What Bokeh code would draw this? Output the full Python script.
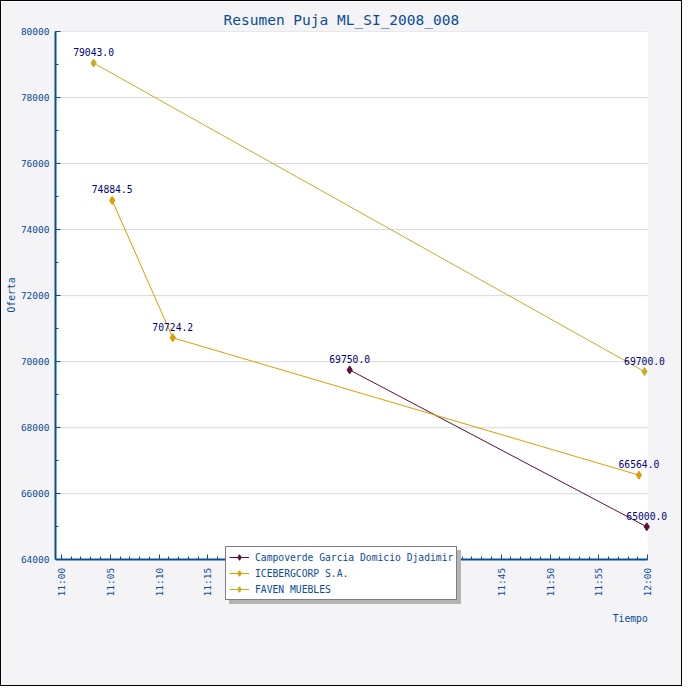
import pandas as pd
from math import pi
from bokeh.plotting import figure
from bokeh.models import (ColumnDataSource, Range1d, FixedTicker, DatetimeTickFormatter,
                          Label, NumeralTickFormatter, Legend, LegendItem, Title)
from bokeh.core.properties import value
from bokeh.embed import file_html
from bokeh.resources import INLINE

# ---- data ----
title_text = "Resumen Puja ML_SI_2008_008"
x_label = "Tiempo"
y_label = "Oferta"
day = "2008-01-01 "
campo_name = "Campoverde Garcia Domicio Djadimir"
campo_times = ["11:29:30", "11:59:54"]
campo_vals = [69750.0, 65000.0]
ice_name = "ICEBERGCORP S.A."
ice_times = ["11:05:12", "11:11:24", "11:59:06"]
ice_vals = [74884.5, 70724.2, 66564.0]
faven_name = "FAVEN MUEBLES"
faven_times = ["11:03:18", "11:59:40"]
faven_vals = [79043.0, 69700.0]
x_tick_times = ["11:00", "11:05", "11:10", "11:15", "11:20", "11:25", "11:30",
                "11:35", "11:40", "11:45", "11:50", "11:55", "12:00"]
y_ticks = [64000, 66000, 68000, 70000, 72000, 74000, 76000, 78000, 80000]
y_minor = [64000, 65000, 66000, 67000, 68000, 69000, 70000, 71000, 72000,
           73000, 74000, 75000, 76000, 77000, 78000, 79000, 80000]

# ---- styles / layout ----
FONT = "DejaVu Sans Mono"
BLUE = "#0a4c96"
NAVY = "#000080"
colors = {"campo": "#5c0e3e", "ice": "#e09c00", "faven": "#c8ac28"}
GRAY_BG = "#f4f4f6"

FRAME_L, FRAME_T, FRAME_W, FRAME_H = 54, 30, 624, 604
LEFT_PAD_PX = 6                       # room left of 11:00 for its tick label
PLOT_W_PX, PLOT_H_PX = 586.3, 528.3   # pixel size of the 11:00-12:00 / 64000-80000 area


def to_dt(ts):
    return pd.to_datetime([day + t for t in ts])


def to_ms(ts):
    return [pd.Timestamp(day + t).value / 1e6 for t in ts]


x_start = pd.Timestamp(day + x_tick_times[0])
x_end = pd.Timestamp(day + x_tick_times[-1])
y_lo, y_hi = y_ticks[0], y_ticks[-1]
span_x = x_end - x_start
view_x_start = x_start - span_x * (LEFT_PAD_PX / PLOT_W_PX)
view_x_end = view_x_start + span_x * (FRAME_W / PLOT_W_PX)
view_y_lo = y_hi - (y_hi - y_lo) * (FRAME_H / PLOT_H_PX)
minor_times = pd.date_range(x_start, x_end, freq="1min")

p = figure(frame_width=FRAME_W, frame_height=FRAME_H, output_backend="svg",
           toolbar_location=None, x_axis_type="datetime",
           x_range=Range1d(view_x_start, view_x_end), y_range=Range1d(view_y_lo, y_hi),
           min_border_left=FRAME_L, min_border_right=2, min_border_top=FRAME_T,
           min_border_bottom=684 - FRAME_T - FRAME_H)
p.styles = {"border": "1px solid #000000"}
p.border_fill_color = GRAY_BG
p.background_fill_color = GRAY_BG
p.outline_line_color = None

p.title.text = title_text
p.title.text_font = FONT
p.title.text_font_size = "14.5px"
p.title.text_font_style = "normal"
p.title.text_color = BLUE
p.title.align = "left"
p.title.offset = 168
p.title.standoff = 8

# white plotting area
p.quad(left=[view_x_start], right=[x_end], bottom=[y_lo], top=[y_hi],
       fill_color="#ffffff", line_color=None, level="image")
# horizontal grid lines at major y ticks
p.segment(x0=[view_x_start] * (len(y_ticks) - 1), x1=[x_end] * (len(y_ticks) - 1),
          y0=y_ticks[1:], y1=y_ticks[1:], line_color="#d8d8d8", line_width=1,
          level="underlay")
p.xgrid.grid_line_color = None
p.ygrid.grid_line_color = None

# axes
xa = p.xaxis[0]
xa.ticker = FixedTicker(ticks=to_ms(x_tick_times),
                        minor_ticks=[t.value / 1e6 for t in minor_times])
xa.formatter = DatetimeTickFormatter(seconds="%H:%M", minsec="%H:%M", minutes="%H:%M",
                                     hourmin="%H:%M", hours="%H:%M", days="%H:%M")
xa.major_label_orientation = pi / 2
xa.fixed_location = y_lo
xa.bounds = (view_x_start, x_end)
ya = p.yaxis[0]
ya.ticker = FixedTicker(ticks=y_ticks, minor_ticks=y_minor)
ya.formatter = NumeralTickFormatter(format="0")
ya.bounds = (y_lo, y_hi)
for ax in (xa, ya):
    ax.axis_line_color = BLUE
    ax.axis_line_width = 2
    ax.major_tick_line_color = BLUE
    ax.minor_tick_line_color = BLUE
    ax.major_tick_in = 5
    ax.major_tick_out = 0
    ax.minor_tick_in = 3
    ax.minor_tick_out = 0
    ax.major_label_text_font = FONT
    ax.major_label_text_font_size = "9.5px"
    ax.major_label_text_color = BLUE
    ax.major_label_standoff = 8
ya.major_label_standoff = 6

p.add_layout(Title(text=y_label, text_font=FONT, text_font_size="9.7px",
                   text_font_style="normal", text_color=BLUE, align="left",
                   offset=323, standoff=1), "left")

series = [
    ("campo", campo_name, campo_times, campo_vals),
    ("ice", ice_name, ice_times, ice_vals),
    ("faven", faven_name, faven_times, faven_vals),
]
items, items_shadow = [], []
for key, name, times, vals in series:
    col = colors[key]
    src = ColumnDataSource(dict(x=to_dt(times), y=vals,
                                lbl=["%.1f" % v for v in vals]))
    r_line = p.line("x", "y", source=src, color=col, line_width=1)
    r_pt = p.scatter("x", "y", source=src, marker="diamond", size=8, color=col)
    p.text("x", "y", text="lbl", source=src, text_font=value(FONT),
           text_font_size="9.7px", text_color=NAVY, text_align="center",
           text_baseline="bottom", y_offset=-7)
    items.append(LegendItem(label=name, renderers=[r_line, r_pt]))
    items_shadow.append(LegendItem(label=name, renderers=[r_line, r_pt]))

p.add_layout(Label(x=x_end, y=y_lo, text=x_label, text_font=FONT,
                   text_font_size="9.7px", text_color=BLUE, text_align="right",
                   text_baseline="middle", y_offset=-59))

LEG_X, LEG_Y = 170, 35


def make_legend(its, loc, bg, border, txt):
    lg = Legend(items=its, location=loc)
    lg.label_text_font = FONT
    lg.label_text_font_size = "9.7px"
    lg.label_text_color = txt
    lg.border_line_color = border
    lg.border_line_width = 1
    lg.background_fill_color = bg
    lg.background_fill_alpha = 1.0
    lg.glyph_width = 20
    lg.glyph_height = 14
    lg.label_height = 14
    lg.spacing = 2
    lg.padding = 3
    lg.margin = 0
    lg.label_standoff = 6
    return lg


p.add_layout(make_legend(items_shadow, (LEG_X + 4, LEG_Y - 4), "#b4b4b4", "#b4b4b4", "#b4b4b4"))
p.add_layout(make_legend(items, (LEG_X, LEG_Y), "#ffffff", "#000000", BLUE))

open("out.html", "w").write(file_html(p, INLINE))
